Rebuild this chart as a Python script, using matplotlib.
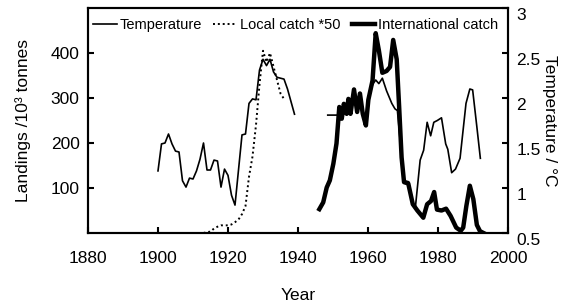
import matplotlib
matplotlib.use("Agg")
import matplotlib.pyplot as plt
import matplotlib.transforms as mtransforms

plt.rcParams['font.family'] = ['Liberation Sans', 'DejaVu Sans']

# Temperature (deg C), two separate records
temp_years_a = [1900, 1901, 1902, 1903, 1904, 1905, 1906, 1907, 1908, 1909,
                1910, 1911, 1912, 1913, 1914, 1915, 1916, 1917, 1918, 1919,
                1920, 1921, 1922, 1924, 1925, 1926, 1927, 1928, 1929, 1930,
                1931, 1932, 1933, 1934, 1935, 1936, 1937, 1938, 1939]
temp_vals_a = [1.19, 1.49, 1.50, 1.60, 1.49, 1.41, 1.40, 1.08, 1.01, 1.11,
               1.10, 1.19, 1.32, 1.50, 1.20, 1.20, 1.31, 1.30, 1.01, 1.21,
               1.14, 0.92, 0.81, 1.59, 1.60, 1.94, 1.99, 1.98, 2.31, 2.43,
               2.36, 2.43, 2.29, 2.23, 2.22, 2.21, 2.10, 1.96, 1.82]

temp_years_b = [1948.5, 1951.5, 1952.5, 1953.1, 1953.9, 1954.4, 1955.0, 1956.0,
                1956.9, 1957.7, 1958.5, 1959.4, 1960.1, 1961.3, 1962.2, 1963.1,
                1964.1, 1965.3, 1966.8, 1967.7, 1968.4, 1969.6, 1970.3, 1971.6,
                1972.6, 1973.5, 1974.9, 1975.9, 1976.9, 1977.9, 1978.8, 1979.8,
                1981.0, 1982.2, 1982.8, 1983.9, 1985.0, 1986.3, 1988.0, 1989.1,
                1989.9, 1991.1, 1992.1]
temp_vals_b = [1.81, 1.81, 1.77, 1.93, 1.81, 1.98, 1.81, 2.08,
               1.83, 2.04, 1.81, 1.70, 1.97, 2.15, 2.20, 2.16,
               2.22, 2.08, 1.94, 1.88, 1.86, 1.35, 1.08, 1.07,
               0.84, 0.77, 1.31, 1.42, 1.73, 1.58, 1.73, 1.75,
               1.78, 1.49, 1.43, 1.17, 1.21, 1.33, 1.94, 2.10,
               2.09, 1.68, 1.33]

# Local catch (x50), 10^3 tonnes
local_years = [1913, 1914, 1915, 1916, 1917, 1918, 1919, 1920, 1921, 1922,
               1923, 1924, 1925, 1926, 1927, 1928, 1929, 1930, 1931, 1932,
               1933, 1934, 1935, 1936]
local_vals = [0, 2, 3, 10, 14, 17, 17, 17, 19, 24,
              30, 42, 60, 125, 170, 240, 330, 405, 380, 400,
              370, 340, 310, 298]

# International catch, 10^3 tonnes
intl_years = [1946.1, 1947.2, 1948.2, 1949.1, 1950.1, 1951.0, 1951.8, 1952.5,
              1953.1, 1953.9, 1954.4, 1955.0, 1956.0, 1956.9, 1957.7, 1958.5,
              1959.4, 1960.1, 1961.3, 1962.2, 1963.1, 1964.1, 1965.3, 1966.3,
              1967.2, 1968.2, 1968.9, 1969.6, 1970.3, 1971.5, 1972.8, 1974.1,
              1975.8, 1976.9, 1978.0, 1978.9, 1979.7, 1981.0, 1982.3, 1983.6,
              1985.2, 1986.5, 1987.2, 1988.1, 1989.1, 1990.1, 1991.1, 1992.0,
              1993.0]
intl_vals = [53, 68, 101, 117, 154, 199, 280, 254,
             287, 265, 298, 265, 319, 269, 310, 265,
             239, 296, 339, 444, 406, 356, 360, 369,
             429, 386, 280, 168, 113, 110, 64, 50,
             34, 64, 71, 91, 52, 50, 54, 38,
             12, 5, 12, 60, 105, 75, 18, 4,
             0]

fig = plt.figure(figsize=(5.74, 3.05), dpi=100)
ax = fig.add_axes([88 / 574, 1 - 233 / 305, 420 / 574, 225 / 305])
ax2 = ax.twinx()

l1, = ax2.plot(temp_years_a, temp_vals_a, color='black', lw=1.2, label='Temperature')
ax2.plot(temp_years_b, temp_vals_b, color='black', lw=1.2)
l2, = ax.plot(local_years, local_vals, color='black', lw=1.4, ls=(0, (1, 1.5)),
              label='Local catch *50')
l3, = ax.plot(intl_years, intl_vals, color='black', lw=3.2, label='International catch')

ax.set_xlim(1880, 2000)
ax.set_ylim(0, 500)
ax2.set_ylim(0.5, 3.0)
ax.set_xticks([1880, 1900, 1920, 1940, 1960, 1980, 2000])
ax.set_yticks([100, 200, 300, 400])
ax2.set_yticks([0.5, 1, 1.5, 2, 2.5, 3])
ax2.set_yticklabels(['0.5', '1', '1.5', '2', '2.5', '3'])

for a in (ax, ax2):
    for s in a.spines.values():
        s.set_linewidth(1.5)
    a.tick_params(direction='in', length=4, width=1.5, labelsize=12.5, pad=6)
ax.tick_params(axis='x', pad=13)

# right-hand labels sit a little below their ticks in the original
shift = mtransforms.ScaledTranslation(0, -4 / 72, fig.dpi_scale_trans)
for lab in ax2.get_yticklabels():
    lab.set_transform(lab.get_transform() + shift)

ax.set_xlabel('Year', fontsize=12.5, labelpad=16)
ax.set_ylabel('Landings /10³ tonnes', fontsize=12.5, labelpad=14)
ax2.set_ylabel('Temperature / °C', fontsize=12.5, rotation=270, labelpad=12)

ax.legend(handles=[l1, l2, l3], loc='upper left', bbox_to_anchor=(-0.012, 1.0),
          ncol=3, frameon=False, fontsize=10.5, handlelength=1.6,
          handletextpad=0.2, columnspacing=0.8, borderaxespad=0.3)

fig.savefig('out.png', dpi=100)
